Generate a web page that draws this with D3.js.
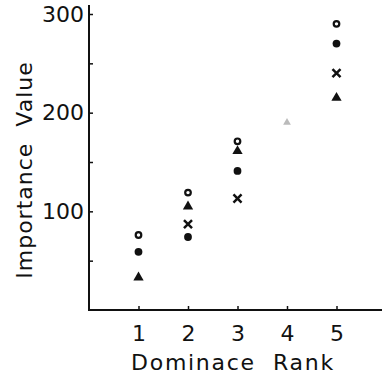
<!DOCTYPE html>
<html lang="en">
<head>
  <meta charset="UTF-8">
  <title>Importance Value by Dominance Rank</title>
  <style>
    body {
      margin: 0;
      background: #fff;
    }
    svg {
      display: block;
    }
    text {
      font-family: "DejaVu Sans", sans-serif;
      fill: #111;
    }
  </style>
</head>
<body>
  <svg></svg>

  <script src="https://d3js.org/d3.v7.min.js"></script>
  <script>
    // values (null = no mark)
    const ranks = [1, 2, 3, 4, 5];
    const openCircle = [76, 119, 171, null, 290];
    const filledCircle = [59, 74, 141, null, 270];
    const triangle = [33, 105, 161, 190, 215];
    const cross = [null, 87, 113, null, 240];
    const yTicks = [50, 100, 150, 200, 250, 300];
    const yLabelTicks = [100, 200, 300];

    const width = 382;
    const height = 375;

    const svg = d3.select("svg")
      .attr("width", width)
      .attr("height", height);

    const x = d3.scaleLinear().domain([0, 6]).range([89, 386]);
    const y = d3.scaleLinear().domain([0, 300]).range([310, 14]);

    // axis lines (drawn longer than the scale range like in the original)
    svg.append("line")
      .attr("x1", x(0)).attr("x2", width)
      .attr("y1", y(0)).attr("y2", y(0))
      .attr("stroke", "#111").attr("stroke-width", 2);
    svg.append("line")
      .attr("x1", x(0)).attr("x2", x(0))
      .attr("y1", 5).attr("y2", y(0) + 1)
      .attr("stroke", "#111").attr("stroke-width", 2);

    const yAxis = svg.append("g")
      .attr("transform", `translate(${x(0)},0)`)
      .call(d3.axisLeft(y)
        .tickValues(yTicks)
        .tickSizeInner(-4)
        .tickSizeOuter(0)
        .tickPadding(5)
        .tickFormat(d => yLabelTicks.includes(d) ? d : ""));
    yAxis.select(".domain").remove();
    yAxis.selectAll("line").attr("stroke", "#111").attr("stroke-width", 1.5);
    yAxis.selectAll("text")
      .attr("font-family", "DejaVu Sans, sans-serif")
      .attr("font-size", 22)
      .attr("fill", "#111");

    const xAxis = svg.append("g")
      .attr("transform", `translate(0,${y(0)})`)
      .call(d3.axisBottom(x)
        .tickValues(ranks)
        .tickSizeInner(-4)
        .tickSizeOuter(0)
        .tickPadding(15)
        .tickFormat(d3.format("d")));
    xAxis.select(".domain").remove();
    xAxis.selectAll("line").attr("stroke", "#111").attr("stroke-width", 1.5);
    xAxis.selectAll("text")
      .attr("font-family", "DejaVu Sans, sans-serif")
      .attr("font-size", 22)
      .attr("fill", "#111");

    // axis titles
    svg.append("text")
      .attr("x", 233)
      .attr("y", 370)
      .attr("text-anchor", "middle")
      .attr("font-size", 22)
      .attr("letter-spacing", 1.7)
      .style("white-space", "pre")
      .text("Dominace  Rank");

    svg.append("text")
      .attr("transform", "translate(32,170) rotate(-90)")
      .attr("text-anchor", "middle")
      .attr("font-size", 22)
      .attr("letter-spacing", 1)
      .style("white-space", "pre")
      .text("Importance  Value");

    // points
    const pts = series => ranks
      .map((r, i) => ({ rank: r, value: series[i] }))
      .filter(d => d.value != null);

    svg.append("g").selectAll("circle")
      .data(pts(openCircle))
      .join("circle")
      .attr("cx", d => x(d.rank))
      .attr("cy", d => y(d.value))
      .attr("r", 2.8)
      .attr("fill", "#fff")
      .attr("stroke", "#111")
      .attr("stroke-width", 2.2);

    svg.append("g").selectAll("circle")
      .data(pts(filledCircle))
      .join("circle")
      .attr("cx", d => x(d.rank))
      .attr("cy", d => y(d.value))
      .attr("r", 3.9)
      .attr("fill", "#111");

    // the rank-4 mark is faded in the original print
    svg.append("g").selectAll("path")
      .data(pts(triangle))
      .join("path")
      .attr("transform", d => `translate(${x(d.rank)},${y(d.value)})`)
      .attr("d", d => d3.symbol(d3.symbolTriangle, d.rank === 4 ? 26 : 46)())
      .attr("fill", d => d.rank === 4 ? "#bbb" : "#111");

    svg.append("g").selectAll("path")
      .data(pts(cross))
      .join("path")
      .attr("transform", d => `translate(${x(d.rank)},${y(d.value)})`)
      .attr("d", d3.symbol(d3.symbolX, 44))
      .attr("fill", "none")
      .attr("stroke", "#111")
      .attr("stroke-width", 2.5);
  </script>
</body>
</html>
